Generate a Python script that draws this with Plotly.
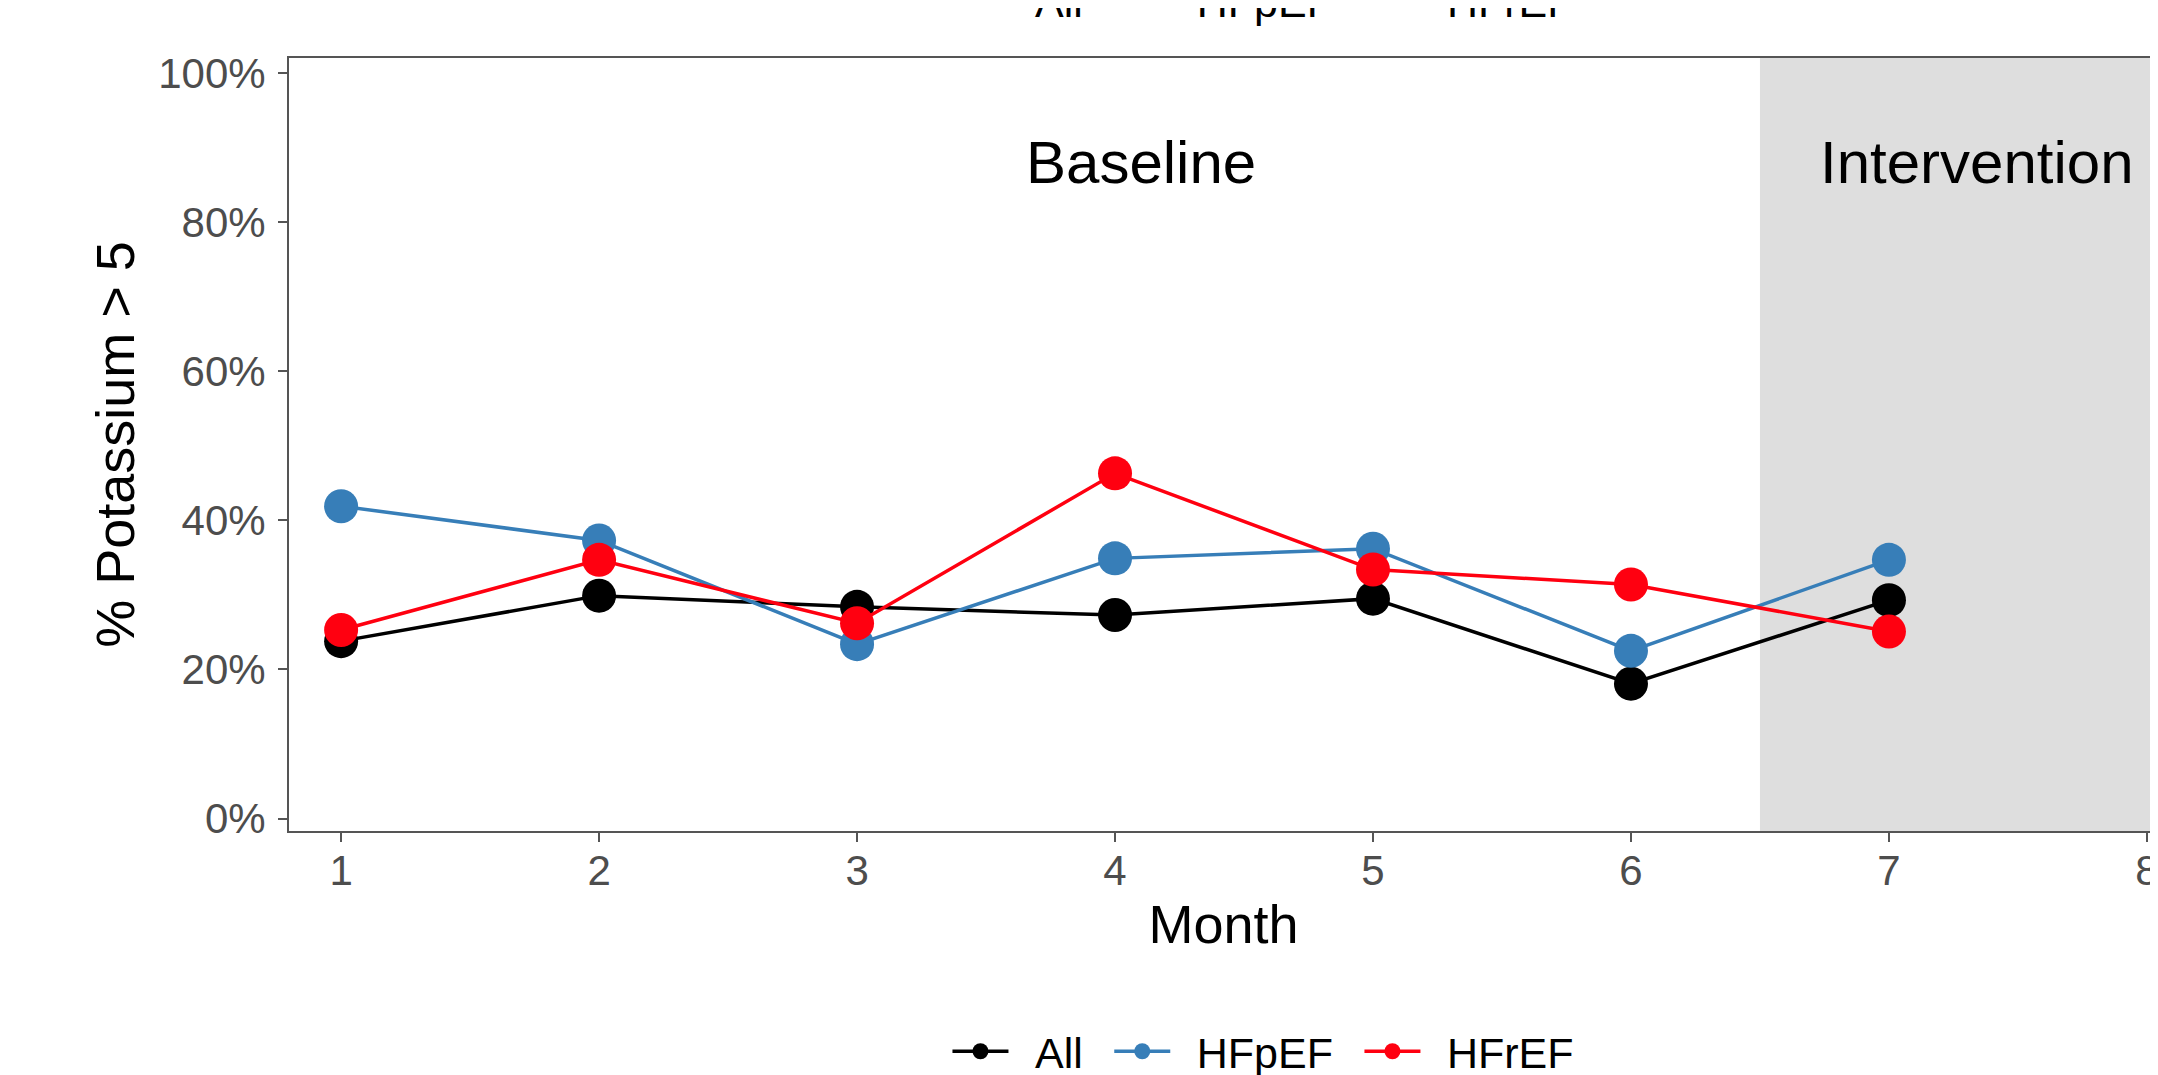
import plotly.graph_objects as go

months = [1, 2, 3, 4, 5, 6, 7]
groups = ["All", "HFpEF", "HFrEF"]
colors = {"All": "#000000", "HFpEF": "#377EB8", "HFrEF": "#FF0010"}
values = {
    "All":   [0.238, 0.299, 0.284, 0.273, 0.295, 0.181, 0.293],
    "HFpEF": [0.419, 0.373, 0.234, 0.349, 0.362, 0.225, 0.347],
    "HFrEF": [0.253, 0.347, 0.262, 0.463, 0.334, 0.314, 0.251],
}
phases = ["Baseline", "Intervention"]
phase_x = [4.1, 7.34]
phase_y = 0.88
intervention_start = 6.5
y_ticks = [0, 0.2, 0.4, 0.6, 0.8, 1.0]
x_ticks = [1, 2, 3, 4, 5, 6, 7, 8]

FONT = "Liberation Sans, Arial, sans-serif"
PAD = "\u2002"  # spacing around legend labels, like ggplot's key spacing

fig = go.Figure()

# shaded intervention period
fig.add_vrect(x0=intervention_start, x1=9, fillcolor="#DEDEDE", line_width=0, layer="below")

for g in groups:
    fig.add_trace(go.Scatter(
        x=months, y=values[g], name=PAD + g + PAD, mode="lines+markers",
        line=dict(color=colors[g], width=3.5),
        marker=dict(color=colors[g], size=34),
        legend="legend",
    ))
    # duplicate (cropped) legend at the top of the image
    fig.add_trace(go.Scatter(
        x=[None], y=[None], name=PAD + g + PAD, mode="lines+markers",
        line=dict(color=colors[g], width=3.5),
        marker=dict(color=colors[g], size=34),
        legend="legend2", hoverinfo="skip",
    ))

for label, xp in zip(phases, phase_x):
    fig.add_annotation(x=xp, y=phase_y, text=label, showarrow=False,
                       font=dict(size=60, color="black", family=FONT))

axis_common = dict(
    showline=True, linecolor="#555555", linewidth=2, mirror=True,
    showgrid=False, zeroline=False,
    ticks="outside", ticklen=9, tickwidth=2, tickcolor="#555555",
    tickfont=dict(size=42, color="#4D4D4D", family=FONT),
    ticklabeloverflow="allow",
)

fig.update_xaxes(range=[0.798, 8.043], tickvals=x_ticks, ticklabelstandoff=-7,
                 title=dict(text="Month", font=dict(size=54, color="black", family=FONT), standoff=12),
                 **axis_common)
fig.update_yaxes(range=[-0.0166, 1.02], tickvals=y_ticks, tickformat=".0%", ticklabelstandoff=4,
                 title=dict(text="% Potassium > 5", font=dict(size=54, color="black", family=FONT), standoff=6),
                 **axis_common)

legend_common = dict(orientation="h", xanchor="center", yanchor="middle",
                     font=dict(size=43, color="black", family=FONT),
                     bgcolor="rgba(0,0,0,0)", itemwidth=56)

fig.update_layout(
    width=2158, height=1075,
    margin=dict(l=281, r=8, t=50, b=252, autoexpand=False),
    plot_bgcolor="white", paper_bgcolor="white",
    font=dict(family=FONT),
    showlegend=True,
    legend=dict(x=0.527, y=-0.285, **legend_common),
    legend2=dict(x=0.527, y=1.075, **legend_common),
)

fig.write_html("out.html")
